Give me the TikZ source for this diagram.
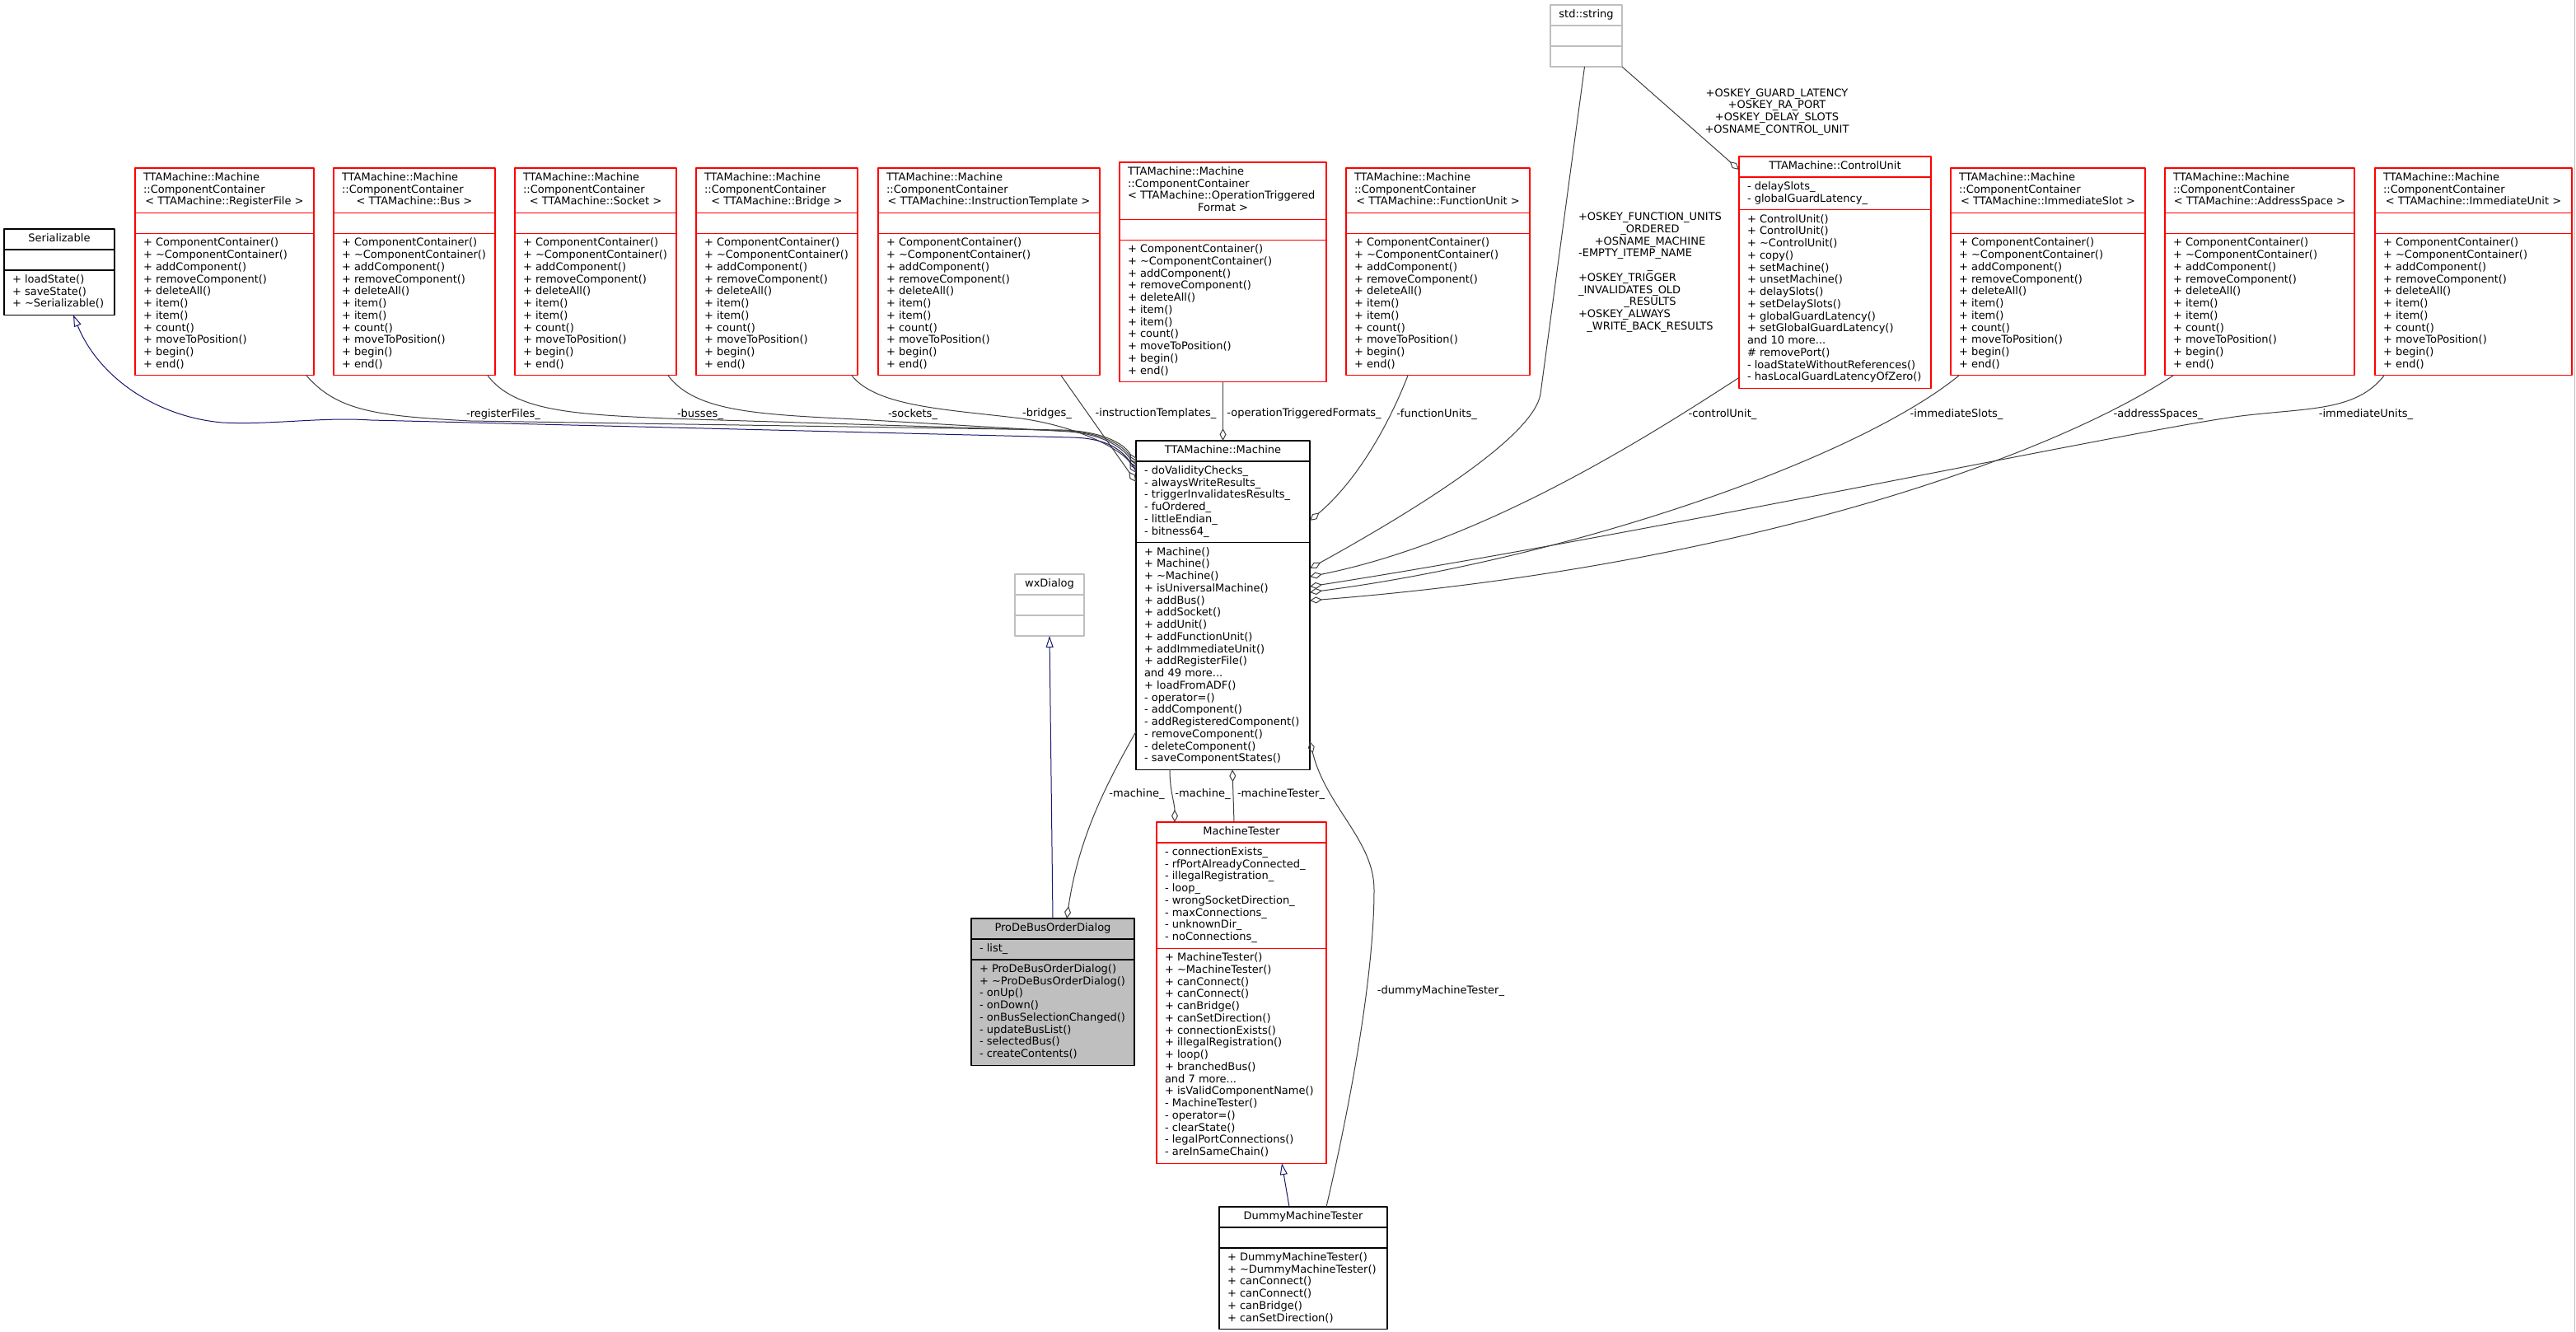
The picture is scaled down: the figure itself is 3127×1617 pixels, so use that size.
\documentclass[tikz,border=0pt]{standalone}
\usepackage{fontspec}
\setmainfont{DejaVu Sans}
\usetikzlibrary{arrows.meta}
\definecolor{edgegray}{HTML}{404040}
\definecolor{midnightblue}{HTML}{191970}
\definecolor{boxgray}{HTML}{BFBFBF}
\newcommand{\umlfont}{\fontsize{13}{14.75}\selectfont}
% class box: style, name, x, y, width, title/attribute/method heights, title
\newcommand{\umlclass}[9]{%
  \node[#1, anchor=north west, minimum width=#5pt, minimum height=#6pt+#7pt+#8pt] (#2) at (#3,#4) {};
  \draw[#1] ([yshift=-#6pt]#2.north west) -- ([yshift=-#6pt]#2.north east);
  \draw[#1] ([yshift=-#6pt-#7pt]#2.north west) -- ([yshift=-#6pt-#7pt]#2.north east);
  \node[member, anchor=north] (#2-t) at ([yshift=-5.1pt]#2.north) {\strut #9};
  \coordinate (#2-a) at ([xshift=10pt, yshift=-#6pt-5.1pt]#2.north west);
  \coordinate (#2-m) at ([xshift=10pt, yshift=-#6pt-#7pt-5.1pt]#2.north west);
}
\newcommand{\cctitle}[2]{\begin{tabular}{@{}l@{}}\makebox[#1][l]{TTAMachine::Machine}\\::ComponentContainer\\\multicolumn{1}{@{}c@{}}{< TTAMachine::#2 >}\end{tabular}}
\newcommand{\ccmethods}{\strut + ComponentContainer()\\+ \textasciitilde ComponentContainer()\\+ addComponent()\\+ removeComponent()\\+ deleteAll()\\+ item()\\+ item()\\+ count()\\+ moveToPosition()\\+ begin()\\+ end()}
\begin{document}
\begin{tikzpicture}[x=1pt, y=-1pt, line join=round,
    cls/.style={draw, line width=1.1pt, inner sep=0pt, outer sep=0pt},
    clsred/.style={cls, draw=red},
    clsgray/.style={cls, draw=boxgray},
    clsdark/.style={cls, draw=black},
    clsfocus/.style={cls, draw=black, fill=boxgray},
    member/.style={font=\umlfont, align=left, inner sep=0pt, outer sep=0pt},
    lbl/.style={font=\umlfont, inner sep=0pt},
    agg/.style={draw=edgegray, line width=1pt, -{Diamond[open, length=15pt, width=8pt]}},
    inherit/.style={draw=midnightblue, line width=1pt, -{Triangle[open, length=14pt, width=9pt]}}]
  \path[fill=white, use as bounding box] (0,0) rectangle (3127,1617);
  \draw[boxgray, line width=1pt] (3125.5,0) -- (3125.5,1617);

  % classes
  \umlclass{clsdark}{serial}{5}{278}{134}{25}{25}{54.45}{Serializable}
  \node[member, anchor=north west] (serial-ml) at (serial-m) {\strut + loadState()\\+ saveState()\\+ \textasciitilde Serializable()};
  \umlclass{clsred}{regfile}{164}{204}{217}{54.45}{25}{172.45}{\cctitle{197pt}{RegisterFile}}
  \node[member, anchor=north west] (regfile-ml) at (regfile-m) {\ccmethods};
  \umlclass{clsred}{bus}{405}{204}{196}{54.45}{25}{172.45}{\cctitle{176pt}{Bus}}
  \node[member, anchor=north west] (bus-ml) at (bus-m) {\ccmethods};
  \umlclass{clsred}{socket}{625}{204}{196}{54.45}{25}{172.45}{\cctitle{176pt}{Socket}}
  \node[member, anchor=north west] (socket-ml) at (socket-m) {\ccmethods};
  \umlclass{clsred}{bridge}{845}{204}{196}{54.45}{25}{172.45}{\cctitle{176pt}{Bridge}}
  \node[member, anchor=north west] (bridge-ml) at (bridge-m) {\ccmethods};
  \umlclass{clsred}{itempl}{1066}{204}{269}{54.45}{25}{172.45}{\cctitle{249pt}{InstructionTemplate}}
  \node[member, anchor=north west] (itempl-ml) at (itempl-m) {\ccmethods};
  \umlclass{clsred}{otf}{1359}{197}{251}{69.2}{25}{172.45}{\begin{tabular}{@{}l@{}}\makebox[231pt][l]{TTAMachine::Machine}\\::ComponentContainer\\< TTAMachine::OperationTriggered\\\multicolumn{1}{@{}c@{}}{Format >}\end{tabular}}
  \node[member, anchor=north west] (otf-ml) at (otf-m) {\ccmethods};
  \umlclass{clsred}{fu}{1634}{204}{223}{54.45}{25}{172.45}{\cctitle{203pt}{FunctionUnit}}
  \node[member, anchor=north west] (fu-ml) at (fu-m) {\ccmethods};
  \umlclass{clsgray}{string}{1882}{6}{87}{25}{25}{25}{std::string}
  \umlclass{clsred}{cu}{2111}{190}{233}{25}{39.7}{216.7}{TTAMachine::ControlUnit}
  \node[member, anchor=north west] (cu-al) at (cu-a) {\strut - delaySlots\_\\- globalGuardLatency\_};
  \node[member, anchor=north west] (cu-ml) at (cu-m) {\strut + ControlUnit()\\+ ControlUnit()\\+ \textasciitilde ControlUnit()\\+ copy()\\+ setMachine()\\+ unsetMachine()\\+ delaySlots()\\+ setDelaySlots()\\+ globalGuardLatency()\\+ setGlobalGuardLatency()\\and 10 more...\\\# removePort()\\- loadStateWithoutReferences()\\- hasLocalGuardLatencyOfZero()};
  \umlclass{clsred}{islot}{2368}{204}{236}{54.45}{25}{172.45}{\cctitle{216pt}{ImmediateSlot}}
  \node[member, anchor=north west] (islot-ml) at (islot-m) {\ccmethods};
  \umlclass{clsred}{aspace}{2628}{204}{230}{54.45}{25}{172.45}{\cctitle{210pt}{AddressSpace}}
  \node[member, anchor=north west] (aspace-ml) at (aspace-m) {\ccmethods};
  \umlclass{clsred}{iunit}{2883}{204}{239}{54.45}{25}{172.45}{\cctitle{219pt}{ImmediateUnit}}
  \node[member, anchor=north west] (iunit-ml) at (iunit-m) {\ccmethods};

  \umlclass{clsdark}{machine}{1379}{535}{211}{25}{98.7}{275.7}{TTAMachine::Machine}
  \node[member, anchor=north west] (machine-al) at (machine-a) {\strut - doValidityChecks\_\\- alwaysWriteResults\_\\- triggerInvalidatesResults\_\\- fuOrdered\_\\- littleEndian\_\\- bitness64\_};
  \node[member, anchor=north west] (machine-ml) at (machine-m) {\strut + Machine()\\+ Machine()\\+ \textasciitilde Machine()\\+ isUniversalMachine()\\+ addBus()\\+ addSocket()\\+ addUnit()\\+ addFunctionUnit()\\+ addImmediateUnit()\\+ addRegisterFile()\\and 49 more...\\+ loadFromADF()\\- operator=()\\- addComponent()\\- addRegisteredComponent()\\- removeComponent()\\- deleteComponent()\\- saveComponentStates()};
  \umlclass{clsgray}{wxdialog}{1232}{697}{84}{25}{25}{25}{wxDialog}
  \umlclass{clsfocus}{prode}{1179}{1115}{198}{25}{25}{128.2}{ProDeBusOrderDialog}
  \node[member, anchor=north west] (prode-al) at (prode-a) {\strut - list\_};
  \node[member, anchor=north west] (prode-ml) at (prode-m) {\strut + ProDeBusOrderDialog()\\+ \textasciitilde ProDeBusOrderDialog()\\- onUp()\\- onDown()\\- onBusSelectionChanged()\\- updateBusList()\\- selectedBus()\\- createContents()};
  \umlclass{clsred}{mtester}{1404}{998}{206}{25}{128.2}{260.95}{MachineTester}
  \node[member, anchor=north west] (mtester-al) at (mtester-a) {\strut - connectionExists\_\\- rfPortAlreadyConnected\_\\- illegalRegistration\_\\- loop\_\\- wrongSocketDirection\_\\- maxConnections\_\\- unknownDir\_\\- noConnections\_};
  \node[member, anchor=north west] (mtester-ml) at (mtester-m) {\strut + MachineTester()\\+ \textasciitilde MachineTester()\\+ canConnect()\\+ canConnect()\\+ canBridge()\\+ canSetDirection()\\+ connectionExists()\\+ illegalRegistration()\\+ loop()\\+ branchedBus()\\and 7 more...\\+ isValidComponentName()\\- MachineTester()\\- operator=()\\- clearState()\\- legalPortConnections()\\- areInSameChain()};
  \umlclass{clsdark}{dummy}{1480}{1465}{204}{25}{25}{98.7}{DummyMachineTester}
  \node[member, anchor=north west] (dummy-ml) at (dummy-m) {\strut + DummyMachineTester()\\+ \textasciitilde DummyMachineTester()\\+ canConnect()\\+ canConnect()\\+ canBridge()\\+ canSetDirection()};

  % containers into the machine
  \draw[agg] ([xshift=208pt]regfile.south west) .. controls +(38,44) and (460,505) .. (571,511) -- (1290,522) .. controls (1345,524) and +(-12,-22) .. ([yshift=-29pt]machine.north west);
  \draw[agg] ([xshift=187pt]bus.south west) .. controls +(33,44) and (700,503) .. (810,508) -- (1295,523) .. controls (1345,526) and +(-12,-22) .. ([yshift=-32pt]machine.north west);
  \draw[agg] ([xshift=186pt]socket.south west) .. controls +(33,44) and (920,503) .. (1040,509) -- (1298,524) .. controls (1345,528) and +(-12,-22) .. ([yshift=-35pt]machine.north west);
  \draw[agg] ([xshift=189pt]bridge.south west) .. controls +(30,38) and (1150,497) .. (1240,508) .. controls (1320,520) and +(-14,-24) .. ([yshift=-39pt]machine.north west);
  \draw[agg] ([xshift=222pt]itempl.south west) -- ([yshift=-50pt]machine.north west);
  \draw[agg] (otf.south) -- (machine.north);
  \draw[agg] ([xshift=75pt]fu.south west) .. controls +(-29,74) and +(50,-42) .. ([yshift=-97pt]machine.north east);
  \draw[agg] ([xshift=-2pt]string.south) -- (1870,478) .. controls (1862,530) and +(130,-72) .. ([yshift=-155pt]machine.north east);
  \draw[agg] ([yshift=13pt]cu.south west) .. controls +(-111,72) and +(210,-42) .. ([yshift=-165pt]machine.north east);
  \draw[agg] ([xshift=11pt]iunit.south west) .. controls +(-34,44) and (2800,495) .. (2720,505) .. controls (2600,520) and +(410,-64) .. ([yshift=-177pt]machine.north east);
  \draw[agg] ([xshift=10pt]islot.south west) .. controls +(-128,104) and +(310,-40) .. ([yshift=-184pt]machine.north east);
  \draw[agg] ([xshift=10pt]aspace.south west) .. controls +(-158,104) and +(510,-40) .. ([yshift=-194pt]machine.north east);
  \draw[agg] (string.south east) -- ([yshift=-16pt]cu.north west);

  % inheritance
  \draw[inherit] ([yshift=-37pt]machine.north west) .. controls +(-14,-26) and (1345,532) .. (1300,531) -- (450,510) .. controls (390,506) and (330,516) .. (270,513) .. controls (190,506) and +(31,76) .. ([xshift=84pt]serial.south west);
  \draw[inherit] (prode.north) -- (wxdialog.south);
  \draw[inherit] ([xshift=85pt]dummy.north west) -- ([xshift=152pt]mtester.south west);

  % lower part
  \draw[agg] ([yshift=-353pt]machine.north west) .. controls +(-29,52) and +(15,-105) .. ([xshift=116pt]prode.north west);
  \draw[agg] ([xshift=41pt]machine.south west) .. controls +(0,26) and +(0,-23) .. ([xshift=22pt]mtester.north west);
  \draw[agg] ([xshift=94pt]mtester.north west) -- ([xshift=117pt]machine.south west);
  \draw[agg] ([xshift=130pt]dummy.north west) .. controls +(20,-85) and (1668,1200) .. (1668,1080) .. controls (1668,1020) and +(20,80) .. ([yshift=-365pt]machine.north east);

  % edge labels
  \node[lbl] (l-regs) at (611,503) {-registerFiles\_};
  \node[lbl] (l-bus) at (850,503) {-busses\_};
  \node[lbl] (l-sock) at (1108,503) {-sockets\_};
  \node[lbl] (l-bridge) at (1271,502) {-bridges\_};
  \node[lbl] (l-itempl) at (1403,502) {-instructionTemplates\_};
  \node[lbl] (l-otf) at (1583,502) {-operationTriggeredFormats\_};
  \node[lbl] (l-fu) at (1744,503) {-functionUnits\_};
  \node[lbl] (l-cu) at (2091,503) {-controlUnit\_};
  \node[lbl] (l-islot) at (2375,503) {-immediateSlots\_};
  \node[lbl] (l-aspace) at (2620,503) {-addressSpaces\_};
  \node[lbl] (l-iunit) at (2872,503) {-immediateUnits\_};
  \node[lbl] (l-strmach) at (2003,331) {\begin{tabular}{@{}c@{}}+OSKEY\_FUNCTION\_UNITS\\\_ORDERED\\+OSNAME\_MACHINE\\\multicolumn{1}{@{}l@{}}{-EMPTY\_ITEMP\_NAME}\\\_\\\multicolumn{1}{@{}l@{}}{+OSKEY\_TRIGGER}\\\multicolumn{1}{@{}l@{}}{\_INVALIDATES\_OLD}\\\_RESULTS\\\multicolumn{1}{@{}l@{}}{+OSKEY\_ALWAYS}\\\_WRITE\_BACK\_RESULTS\end{tabular}};
  \node[lbl, align=center] (l-strcu) at (2157,136) {+OSKEY\_GUARD\_LATENCY\\+OSKEY\_RA\_PORT\\+OSKEY\_DELAY\_SLOTS\\+OSNAME\_CONTROL\_UNIT};
  \node[lbl] (l-mach1) at (1380,964) {-machine\_};
  \node[lbl] (l-mach2) at (1460,964) {-machine\_};
  \node[lbl] (l-mtest) at (1555,964) {-machineTester\_};
  \node[lbl] (l-dummy) at (1749,1203) {-dummyMachineTester\_};
\end{tikzpicture}
\end{document}
